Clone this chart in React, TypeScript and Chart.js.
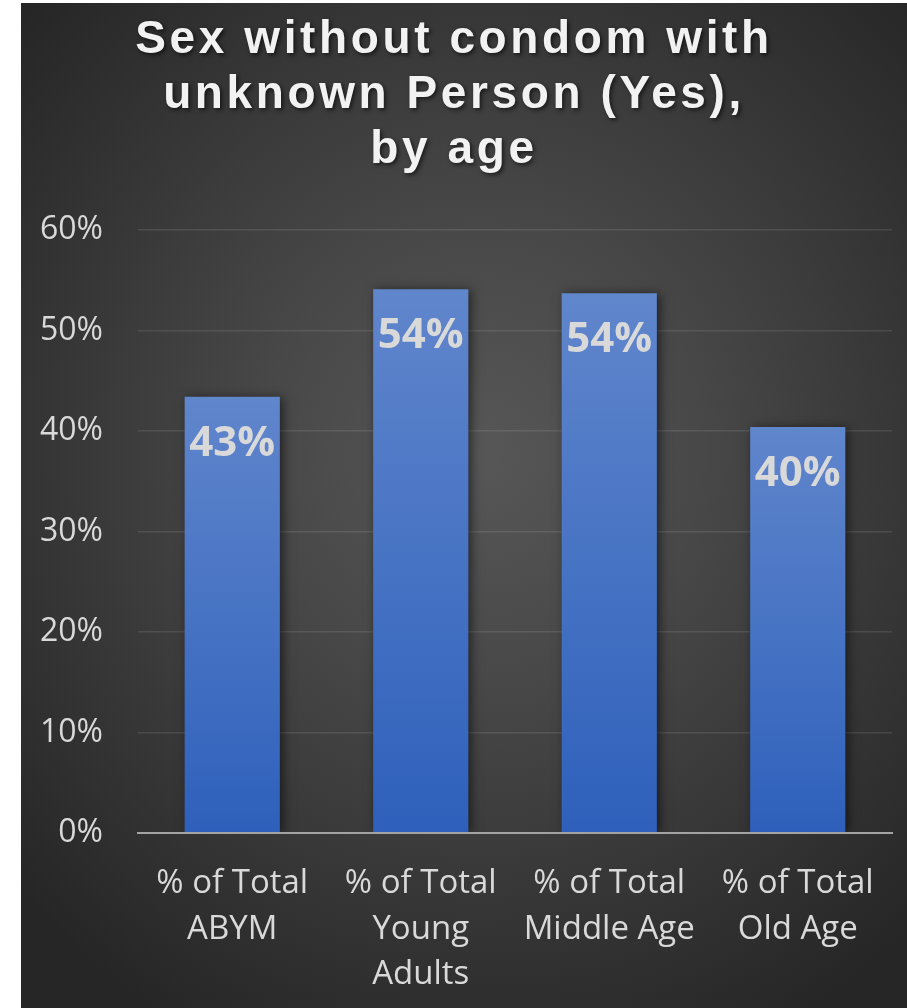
import React, { useEffect, useRef } from 'react';
import { Chart, registerables } from 'chart.js';

Chart.register(...registerables);

const categories: string[][] = [
  ['% of Total', 'ABYM'],
  ['% of Total', 'Young', 'Adults'],
  ['% of Total', 'Middle Age'],
  ['% of Total', 'Old Age'],
];
const values: number[] = [43.4, 54.1, 53.7, 40.4];
const yMin = 0;
const yMax = 60;
const yStep = 10;
const titleLines: string[] = ['Sex without condom with', 'unknown Person (Yes),', 'by age'];

const W = 886;
const H = 1005;

const barShadowPlugin = {
  id: 'barShadow',
  beforeDatasetsDraw(chart: any) {
    const ctx = chart.ctx;
    ctx.save();
    ctx.shadowColor = 'rgba(0,0,0,0.55)';
    ctx.shadowBlur = 10;
    ctx.shadowOffsetX = 3;
    ctx.shadowOffsetY = 1;
  },
  afterDatasetsDraw(chart: any) {
    chart.ctx.restore();
  },
};

const valueLabelPlugin = {
  id: 'valueLabels',
  afterDatasetsDraw(chart: any) {
    const ctx = chart.ctx;
    const meta = chart.getDatasetMeta(0);
    ctx.save();
    ctx.font = 'bold 42px "Open Sans"';
    ctx.fillStyle = '#d9d9d9';
    ctx.textAlign = 'center';
    ctx.textBaseline = 'middle';
    meta.data.forEach((bar: any, i: number) => {
      const v = chart.data.datasets[0].data[i] as number;
      ctx.fillText(Math.round(v) + '%', bar.x, bar.y + 47);
    });
    ctx.restore();
  },
};

const titlePlugin = {
  id: 'customTitle',
  afterDraw(chart: any) {
    const ctx = chart.ctx;
    ctx.save();
    ctx.font = 'bold 46px "Liberation Sans"';
    (ctx as any).letterSpacing = '3.6px';
    ctx.textAlign = 'center';
    ctx.textBaseline = 'alphabetic';
    ctx.fillStyle = '#f2f2f2';
    ctx.shadowColor = 'rgba(0,0,0,0.6)';
    ctx.shadowBlur = 4;
    ctx.shadowOffsetX = 2;
    ctx.shadowOffsetY = 2;
    const cx = 433;
    titleLines.forEach((line, i) => {
      ctx.fillText(line, cx, 50 + i * 55);
    });
    ctx.restore();
  },
};

export default function App() {
  const canvasRef = useRef<HTMLCanvasElement | null>(null);

  useEffect(() => {
    if (!canvasRef.current) return;
    const chart = new Chart(canvasRef.current, {
      type: 'bar',
      data: {
        labels: categories,
        datasets: [
          {
            data: values,
            backgroundColor: (c: any) => {
              const chartObj = c.chart;
              const ys = chartObj.scales && chartObj.scales.y;
              if (!ys || c.raw == null) return '#3d6cc3';
              const top = ys.getPixelForValue(c.raw);
              const bottom = ys.getPixelForValue(0);
              if (!isFinite(top) || !isFinite(bottom) || top === bottom) return '#3d6cc3';
              const g = chartObj.ctx.createLinearGradient(0, top, 0, bottom);
              g.addColorStop(0, '#6086cc');
              g.addColorStop(1, '#2e60bb');
              return g;
            },
            borderWidth: 0,
            barPercentage: 0.505,
            categoryPercentage: 1,
          },
        ],
      },
      options: {
        responsive: false,
        animation: false,
        layout: { padding: { top: 227, right: 15, left: 0, bottom: 0 } },
        plugins: {
          legend: { display: false },
          title: { display: false },
          tooltip: { enabled: false },
        },
        scales: {
          x: {
            grid: { display: false, drawTicks: false },
            border: { display: true, color: '#a3a3a3', width: 2, z: 1 },
            ticks: {
              color: '#d9d9d9',
              font: { family: '"Open Sans"', size: 33, lineHeight: 1.38 },
              padding: 28,
              maxRotation: 0,
              autoSkip: false,
            },
            afterFit: (s: any) => {
              s.height = 175;
            },
          },
          y: {
            min: yMin,
            max: yMax,
            grid: { color: 'rgba(255,255,255,0.1)', lineWidth: 1.5, drawTicks: false },
            border: { display: false },
            ticks: {
              stepSize: yStep,
              color: '#d9d9d9',
              font: { family: '"Open Sans"', size: 32 },
              padding: 35,
              callback: (v: any) => v + '%',
            },
            afterFit: (s: any) => {
              s.width = 117;
            },
          },
        },
      },
      plugins: [barShadowPlugin, valueLabelPlugin, titlePlugin],
    });
    return () => chart.destroy();
  }, []);

  return (
    <div
      style={{
        position: 'absolute',
        left: 21,
        top: 3,
        width: W,
        height: H,
        background:
          'radial-gradient(ellipse 70% 65% at 52% 45%, #575757 0%, #484848 35%, #333333 75%, #262626 100%)',
      }}
    >
      <canvas ref={canvasRef} width={W} height={H} style={{ display: 'block' }} />
    </div>
  );
}
